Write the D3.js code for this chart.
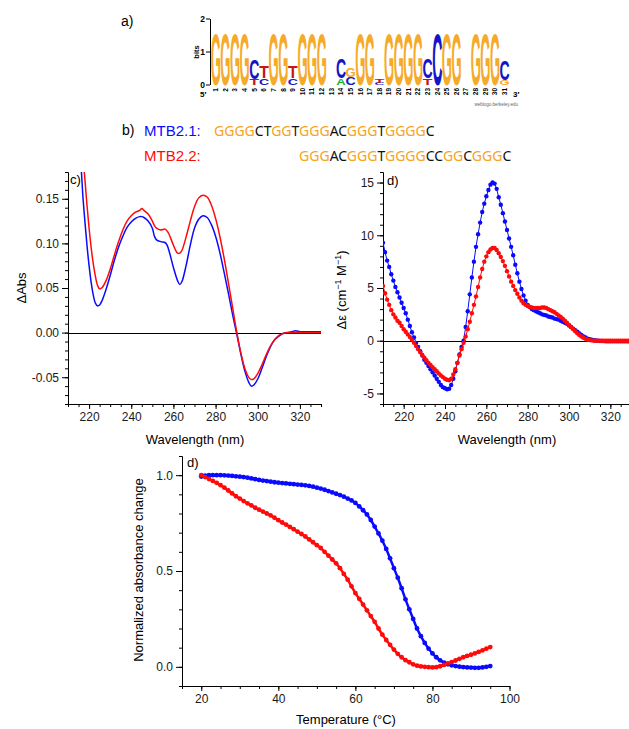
<!DOCTYPE html>
<html>
<head>
<meta charset="utf-8">
<script src="https://cdn.jsdelivr.net/npm/d3@7"></script>
<style>
  body { margin: 0; background: #fff; }
  svg { font-family: "Liberation Sans", Arial, sans-serif; display: block; }
  .axis text { font-size: 12px; fill: #1a1a1a; }
  .axis path, .axis line { stroke: #000; stroke-width: 1; }
</style>
</head>
<body>
<svg id="fig" width="629" height="729"></svg>
<script>
// ---------- data ----------
// a) sequence logo: letters stacked bottom -> top, height in bits
const logoPositions = [1,2,3,4,5,6,7,8,9,10,11,12,13,14,15,16,17,18,19,20,21,22,23,24,25,26,27,28,29,30,31];
const logoStacks = [
  [["G",1.6]], [["G",1.6]], [["G",1.6]], [["G",1.6]],
  [["T",0.18],["C",0.62]],
  [["C",0.2],["T",0.36]],
  [["G",1.6]], [["G",1.6]],
  [["C",0.2],["T",0.36]],
  [["G",1.6]], [["G",1.6]], [["G",1.6]],
  [],
  [["A",0.2],["C",0.6]],
  [["C",0.25],["G",0.3]],
  [["G",1.6]], [["G",1.6]],
  [["C",0.06],["T",0.12]],
  [["G",1.6]], [["G",1.6]], [["G",1.6]], [["G",1.6]],
  [["T",0.2],["C",0.6]],
  [["C",1.6]],
  [["G",1.6]], [["G",1.6]],
  [],
  [["G",1.6]], [["G",1.6]], [["G",1.6]],
  [["G",0.15],["C",0.62]]
];

// b) sequences
const seqMTB21 = "GGGGCTGGTGGGACGGGTGGGGC";
const seqMTB22 = "GGGACGGGTGGGGCCGGCGGGC";
const seqMTB22Offset = 9; // aligned under the 10th base of MTB2.1

// c) thermal difference spectra
const cWavelength = [215,216,217,218,219,220,221,222,223,224,225,226,228,230,232,234,236,238,240,242,244,245,246,248,250,251,252,254,256,257,258,260,262,263,264,266,268,270,272,274,276,278,280,282,284,286,288,290,292,294,296,297,298,300,302,304,306,308,310,312,314,316,318,320,322,324,326,328,330];
const cMTB21 = [0.235,0.195,0.155,0.125,0.098,0.075,0.056,0.042,0.033,0.030,0.031,0.035,0.048,0.064,0.081,0.096,0.108,0.118,0.124,0.128,0.130,0.130,0.129,0.125,0.117,0.108,0.104,0.102,0.101,0.098,0.091,0.073,0.058,0.054,0.057,0.075,0.098,0.117,0.127,0.131,0.129,0.121,0.108,0.090,0.068,0.045,0.021,-0.001,-0.024,-0.044,-0.057,-0.060,-0.059,-0.052,-0.040,-0.027,-0.016,-0.008,-0.004,-0.001,0.000,0.001,0.002,0.001,0.001,0.001,0.001,0.001,0.001];
const cMTB22 = [0.27,0.235,0.2,0.172,0.143,0.117,0.095,0.077,0.063,0.053,0.049,0.050,0.058,0.071,0.087,0.102,0.115,0.125,0.131,0.135,0.137,0.139,0.137,0.133,0.125,0.120,0.117,0.115,0.116,0.114,0.110,0.098,0.089,0.089,0.092,0.107,0.125,0.141,0.151,0.154,0.152,0.143,0.128,0.108,0.084,0.057,0.029,0.001,-0.023,-0.041,-0.051,-0.0525,-0.052,-0.046,-0.036,-0.025,-0.015,-0.008,-0.003,-0.001,0,0,0,0,0,0,0,0,0];

// d) CD spectra, 210..330 nm every 1 nm
const dWavelength = d3.range(210, 331);
const dMTB21 = [
  9.3,8.4,7.6,7.0,6.3,5.7,5.1,4.6,4.1,3.6,
  3.1,2.6,2.0,1.4,0.8,0.3,-0.2,-0.6,-1.0,-1.4,
  -1.8,-2.1,-2.4,-2.7,-3.0,-3.3,-3.6,-3.9,-4.2,-4.4,
  -4.5,-4.6,-4.55,-4.2,-3.6,-2.9,-2.1,-1.3,-0.6,0.0,
  1.3,2.8,4.4,6.0,7.5,8.9,10.1,11.2,12.2,13.0,
  13.7,14.3,14.8,15.0,14.9,14.4,13.6,12.9,12.1,11.3,
  10.5,9.7,8.9,8.1,7.2,6.4,5.6,4.9,4.3,3.8,
  3.4,3.2,3.0,2.9,2.8,2.7,2.6,2.5,2.45,2.4,
  2.3,2.25,2.2,2.1,2.05,2.0,1.9,1.8,1.7,1.6,
  1.45,1.3,1.15,1.0,0.85,0.7,0.55,0.4,0.3,0.2,
  0.15,0.1,0.05,0.02,0.0,-0.02,-0.03,-0.04,-0.05,-0.05,
  -0.05,-0.05,-0.05,-0.05,-0.05,-0.05,-0.05,-0.05,-0.05,-0.05,-0.05
];
const dMTB22 = [
  5.2,4.5,3.9,3.4,2.9,2.5,2.2,1.9,1.7,1.4,
  1.1,0.85,0.6,0.35,0.1,-0.2,-0.5,-0.8,-1.1,-1.35,
  -1.6,-1.85,-2.1,-2.3,-2.5,-2.7,-2.9,-3.1,-3.3,-3.45,
  -3.6,-3.7,-3.75,-3.6,-3.2,-2.7,-2.1,-1.4,-0.8,-0.2,
  0.4,1.1,1.8,2.6,3.4,4.2,5.1,6.0,6.8,7.5,
  8.0,8.4,8.65,8.8,8.8,8.6,8.3,7.95,7.55,7.1,
  6.6,6.1,5.6,5.2,4.8,4.45,4.1,3.8,3.55,3.4,
  3.3,3.2,3.15,3.1,3.1,3.1,3.1,3.15,3.15,3.1,
  3.0,2.9,2.8,2.7,2.55,2.4,2.25,2.1,1.9,1.7,
  1.5,1.3,1.1,0.9,0.7,0.55,0.4,0.28,0.18,0.1,
  0.06,0.03,0.01,0,0,0,0,0,0,0,
  0,0,0,0,0,0,0,0,0,0,0
];

// melting curves, 20..95 °C every 1 °C
const eTemperature = d3.range(20, 96);
const eMTB21 = [
  0.993,0.997,1.0,1.0,1.0,1.0,0.999,0.998,0.996,0.994,
  0.992,0.99,0.987,0.983,0.979,0.975,0.972,0.969,0.966,0.963,
  0.961,0.959,0.957,0.955,0.953,0.951,0.949,0.947,0.944,0.94,
  0.935,0.93,0.924,0.917,0.91,0.903,0.896,0.888,0.878,0.868,
  0.855,0.837,0.817,0.795,0.766,0.732,0.696,0.658,0.615,0.566,
  0.515,0.465,0.41,0.352,0.3,0.25,0.2,0.16,0.125,0.095,
  0.07,0.05,0.034,0.022,0.013,0.008,0.004,0.001,-0.001,-0.003,
  -0.004,-0.005,-0.005,-0.003,0.0,0.004
];
const eMTB22 = [
  1.0,0.99,0.98,0.97,0.96,0.948,0.935,0.92,0.905,0.89,
  0.878,0.865,0.853,0.842,0.83,0.82,0.81,0.8,0.79,0.778,
  0.765,0.753,0.742,0.73,0.718,0.705,0.693,0.68,0.665,0.65,
  0.635,0.62,0.6,0.58,0.56,0.54,0.515,0.485,0.455,0.42,
  0.385,0.355,0.325,0.295,0.265,0.235,0.2,0.168,0.14,0.115,
  0.09,0.068,0.05,0.035,0.024,0.013,0.006,0.002,0.0,-0.002,
  -0.003,-0.002,0.003,0.01,0.018,0.025,0.033,0.042,0.05,0.057,
  0.063,0.07,0.078,0.086,0.095,0.103
];

const blue = "#0a0aff", red = "#ff0a0a", orange = "#f7a321";
const logoColor = { G: "#f5aa2a", C: "#1414c8", T: "#c81414", A: "#22b022" };

const svg = d3.select("#fig");

// ---------- a) logo ----------
svg.append("text").attr("x", 121).attr("y", 26).attr("font-size", 14).text("a)");

const logoX = d3.scaleBand().domain(logoPositions).range([211, 509.5]);
const logoY = d3.scaleLinear([0, 2], [85, 19]);
const logo = svg.append("g");

logo.append("line").attr("x1", 210.5).attr("x2", 210.5).attr("y1", 19).attr("y2", 85).attr("stroke", "#000");
[0, 1, 2].forEach(v => {
  logo.append("line").attr("x1", 206).attr("x2", 210).attr("y1", logoY(v)).attr("y2", logoY(v)).attr("stroke", "#000");
  logo.append("text").attr("x", 205).attr("y", logoY(v) + 3).attr("text-anchor", "end")
    .attr("font-size", 8.5).attr("font-weight", "bold").text(v);
});
logo.append("text").attr("transform", "translate(198.5,52) rotate(-90)").attr("text-anchor", "middle")
  .attr("font-size", 7.5).attr("font-weight", "bold").text("bits");
logo.append("text").attr("x", 200).attr("y", 97).attr("font-size", 8).attr("font-weight", "bold").text("5\u2032");
logo.append("text").attr("x", 513).attr("y", 97).attr("font-size", 8).attr("font-weight", "bold").text("3\u2032");
logo.append("text").attr("x", 518).attr("y", 106).attr("text-anchor", "end").attr("font-size", 4.5)
  .attr("fill", "#666").text("weblogo.berkeley.edu");

// ink width of each glyph at font-size 100 (bold)
const inkW = { G: 70, C: 65, T: 58, A: 70 };
logoStacks.forEach((stack, i) => {
  const pos = logoPositions[i];
  const cx = logoX(pos) + logoX.bandwidth() / 2;
  let base = 0;
  stack.forEach(([letter, bits]) => {
    const yb = logoY(base), yt = logoY(base + bits);
    const sy = (yb - yt) / 73;
    const sx = logoX.bandwidth() * 0.95 / inkW[letter];
    logo.append("text")
      .attr("transform", `translate(${cx},${yb - 0.5 * sy}) scale(${sx},${sy})`)
      .attr("text-anchor", "middle").attr("font-size", 100).attr("font-weight", "bold")
      .attr("fill", logoColor[letter]).text(letter);
    base += bits;
  });
  logo.append("text")
    .attr("transform", `translate(${cx + 2.3},88) rotate(-90)`)
    .attr("text-anchor", "end").attr("font-size", 6.5).attr("font-weight", "bold").text(pos);
});

// ---------- b) sequences ----------
svg.append("text").attr("x", 122).attr("y", 135).attr("font-size", 14).text("b)");
svg.append("text").attr("x", 144).attr("y", 136).attr("font-size", 15).attr("fill", blue).text("MTB2.1:");
svg.append("text").attr("x", 144).attr("y", 161).attr("font-size", 15).attr("fill", red).text("MTB2.2:");

function seqText(x, y, seq) {
  const t = svg.append("text").attr("x", x).attr("y", y)
    .attr("font-family", "'Noto Sans', sans-serif").attr("font-size", 14);
  seq.match(/G{2,}|[^G]+|G/g).forEach(run => {
    t.append("tspan").attr("fill", /^G{2,}$/.test(run) ? orange : "#111").text(run);
  });
  return t;
}
const t21 = seqText(214, 136, seqMTB21);
const offsetPx = t21.node().getSubStringLength(0, seqMTB22Offset);
seqText(214 + offsetPx, 161, seqMTB22);

// ---------- axes helper ----------
function axes(g, x, y, o) {
  const y0 = y.range()[0], x0 = x.range()[0];
  g.append("g").attr("class", "axis").attr("transform", `translate(0,${y0})`)
    .call(d3.axisBottom(x).tickValues(o.xMinor).tickSize(3).tickFormat("").tickSizeOuter(0));
  g.append("g").attr("class", "axis").attr("transform", `translate(0,${y0})`)
    .call(d3.axisBottom(x).tickValues(o.xMajor).tickSize(5).tickPadding(3).tickSizeOuter(0));
  g.append("g").attr("class", "axis").attr("transform", `translate(${x0},0)`)
    .call(d3.axisLeft(y).tickValues(o.yMinor).tickSize(3).tickFormat("").tickSizeOuter(0));
  g.append("g").attr("class", "axis").attr("transform", `translate(${x0},0)`)
    .call(d3.axisLeft(y).tickValues(o.yMajor).tickSize(6).tickPadding(3).tickSizeOuter(0).tickFormat(o.yFmt));
}
function clip(id, x, y) {
  svg.append("clipPath").attr("id", id).append("rect")
    .attr("x", x.range()[0]).attr("y", y.range()[1])
    .attr("width", x.range()[1] - x.range()[0]).attr("height", y.range()[0] - y.range()[1]);
}
function zeroLine(g, x, y) {
  const yz = Math.round(y(0)) + 0.5;
  g.append("line").attr("x1", x.range()[0]).attr("x2", x.range()[1])
    .attr("y1", yz).attr("y2", yz).attr("stroke", "#000").attr("stroke-width", 1);
}

// ---------- c) ----------
const xC = d3.scaleLinear([210, 330], [68, 321]);
const yC = d3.scaleLinear([-0.08, 0.18], [404, 172]);
const gC = svg.append("g");
clip("clipC", xC, yC);
axes(gC, xC, yC, {
  xMajor: [220, 240, 260, 280, 300, 320], xMinor: d3.range(210, 331, 5),
  yMajor: [-0.05, 0, 0.05, 0.1, 0.15], yMinor: d3.range(-8, 19).map(d => d / 100),
  yFmt: d => d.toFixed(2)
});
zeroLine(gC, xC, yC);
const lineC = d3.line().x((d, i) => xC(cWavelength[i])).y(d => yC(d)).curve(d3.curveCatmullRom);
const plotC = gC.append("g").attr("clip-path", "url(#clipC)");
plotC.append("path").attr("d", lineC(cMTB21)).attr("fill", "none").attr("stroke", blue).attr("stroke-width", 1.5);
plotC.append("path").attr("d", lineC(cMTB22)).attr("fill", "none").attr("stroke", red).attr("stroke-width", 1.5);
gC.append("text").attr("x", 70).attr("y", 184).attr("font-size", 13).text("c)");
gC.append("text").attr("transform", "translate(26,288) rotate(-90)").attr("text-anchor", "middle")
  .attr("font-size", 13).text("\u0394Abs");
gC.append("text").attr("x", 195).attr("y", 444).attr("text-anchor", "middle").attr("font-size", 13).text("Wavelength (nm)");

// ---------- d) CD ----------
const xD = d3.scaleLinear([210, 330], [383, 631]);
const yD = d3.scaleLinear([-6, 16], [404, 172]);
const gD = svg.append("g");
clip("clipD", xD, yD);
axes(gD, xD, yD, {
  xMajor: [220, 240, 260, 280, 300, 320], xMinor: d3.range(210, 331, 5),
  yMajor: [-5, 0, 5, 10, 15], yMinor: d3.range(-6, 17),
  yFmt: d => String(d)
});
zeroLine(gD, xD, yD);
const plotD = gD.append("g").attr("clip-path", "url(#clipD)");
const lineD = d3.line().x((d, i) => xD(dWavelength[i])).y(d => yD(d));
[[dMTB21, blue], [dMTB22, red]].forEach(([vals, col]) => {
  plotD.append("path").attr("d", lineD(vals)).attr("fill", "none").attr("stroke", col).attr("stroke-width", 1);
  plotD.selectAll(null).data(vals).join("circle")
    .attr("cx", (d, i) => xD(dWavelength[i])).attr("cy", d => yD(d)).attr("r", 2.2).attr("fill", col);
});
gD.append("text").attr("x", 387).attr("y", 185).attr("font-size", 13).text("d)");
const tD = gD.append("text").attr("transform", "translate(346,290) rotate(-90)").attr("text-anchor", "middle").attr("font-size", 13);
tD.append("tspan").text("\u0394\u03b5 (cm");
tD.append("tspan").attr("dy", -5).attr("font-size", 9).text("\u22121");
tD.append("tspan").attr("dy", 5).text(" M");
tD.append("tspan").attr("dy", -5).attr("font-size", 9).text("\u22121");
tD.append("tspan").attr("dy", 5).text(")");
gD.append("text").attr("x", 507).attr("y", 444).attr("text-anchor", "middle").attr("font-size", 13).text("Wavelength (nm)");

// ---------- melting ----------
const xE = d3.scaleLinear([15, 100], [182, 509.5]);
const yE = d3.scaleLinear([-0.1, 1.1], [686, 456]);
const gE = svg.append("g");
axes(gE, xE, yE, {
  xMajor: [20, 40, 60, 80, 100], xMinor: d3.range(15, 101, 5),
  yMajor: [0, 0.5, 1], yMinor: d3.range(-1, 12).map(d => d / 10),
  yFmt: d => d.toFixed(1)
});
const lineE = d3.line().x((d, i) => xE(eTemperature[i])).y(d => yE(d)).curve(d3.curveCatmullRom);
[[eMTB21, blue], [eMTB22, red]].forEach(([vals, col]) => {
  gE.append("path").attr("d", lineE(vals)).attr("fill", "none").attr("stroke", col).attr("stroke-width", 2.5);
  gE.selectAll(null).data(vals).join("circle")
    .attr("cx", (d, i) => xE(eTemperature[i])).attr("cy", d => yE(d)).attr("r", 2.4).attr("fill", col);
});
gE.append("text").attr("x", 187).attr("y", 467).attr("font-size", 13).text("d)");
gE.append("text").attr("transform", "translate(142.5,570) rotate(-90)").attr("text-anchor", "middle")
  .attr("font-size", 13).text("Normalized absorbance change");
gE.append("text").attr("x", 346).attr("y", 724).attr("text-anchor", "middle").attr("font-size", 13).text("Temperature (\u00b0C)");
</script>
</body>
</html>
